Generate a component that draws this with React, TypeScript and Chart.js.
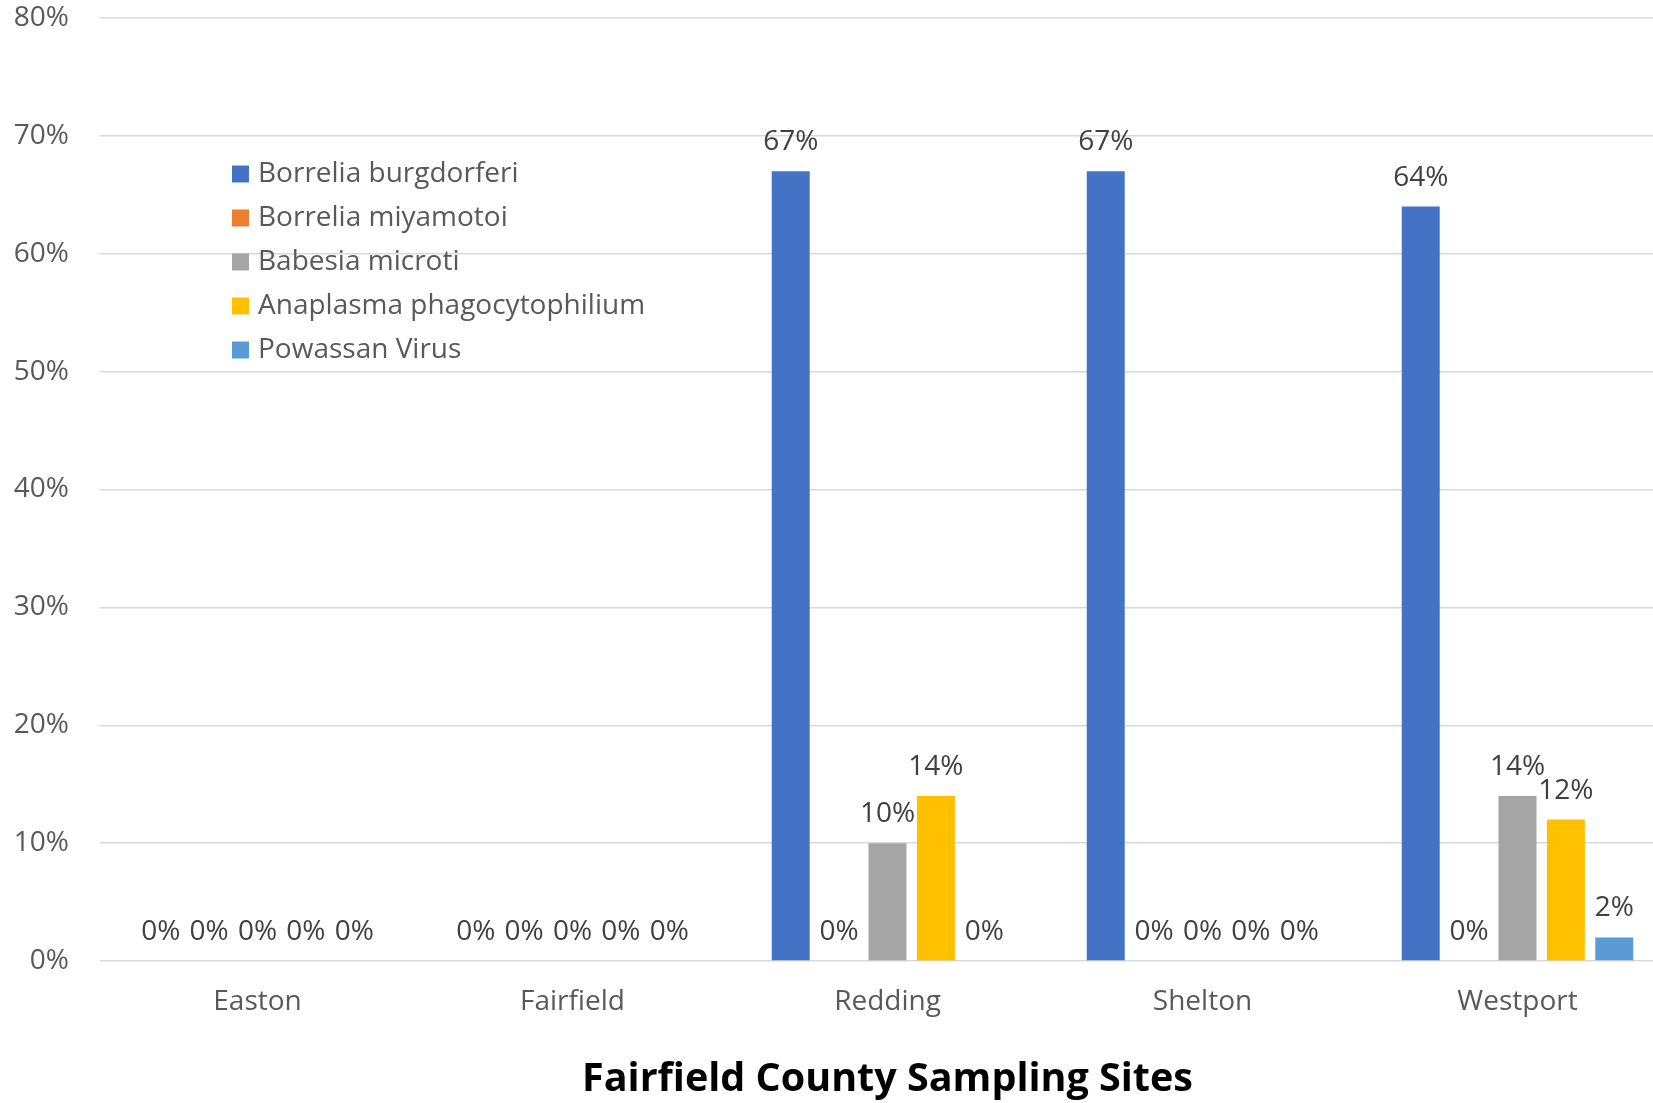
import React, { useEffect, useRef } from "react";
import { Chart, registerables } from "chart.js";

Chart.register(...registerables);

const categories = ["Easton", "Fairfield", "Redding", "Shelton", "Westport"];
const seriesNames = [
  "Borrelia burgdorferi",
  "Borrelia miyamotoi",
  "Babesia microti",
  "Anaplasma phagocytophilium",
  "Powassan Virus",
];
const borreliaBurgdorferi = [0, 0, 67, 67, 64];
const borreliaMiyamotoi = [0, 0, 0, 0, 0];
const babesiaMicroti = [0, 0, 10, 0, 14];
const anaplasma = [0, 0, 14, 0, 12];
const powassan = [0, 0, 0, 0, 2];
const seriesColors = ["#4472C4", "#ED7D31", "#A5A5A5", "#FFC000", "#5B9BD5"];
const yTicks = [0, 10, 20, 30, 40, 50, 60, 70, 80];
const xTitle = "Fairfield County Sampling Sites";

const FONT = "'Open Sans', 'Noto Sans', sans-serif";

const dataLabelPlugin = {
  id: "dataLabels",
  afterDatasetsDraw(chart: any) {
    const ctx = chart.ctx;
    ctx.save();
    ctx.font = `28px ${FONT}`;
    ctx.fillStyle = "#404040";
    ctx.textAlign = "center";
    ctx.textBaseline = "middle";
    chart.data.datasets.forEach((ds: any, i: number) => {
      const meta = chart.getDatasetMeta(i);
      meta.data.forEach((el: any, j: number) => {
        const v = ds.data[j];
        ctx.fillText(`${v}%`, el.x, el.y - 29);
      });
    });
    ctx.restore();
  },
};

const legendPlugin = {
  id: "insideLegend",
  afterDraw(chart: any) {
    const ctx = chart.ctx;
    const area = chart.chartArea;
    const x0 = area.left + 132;
    const y0 = area.top + 156;
    const step = 44;
    const box = 17;
    ctx.save();
    ctx.font = `28px ${FONT}`;
    ctx.textAlign = "left";
    ctx.textBaseline = "middle";
    chart.data.datasets.forEach((ds: any, i: number) => {
      const cy = y0 + i * step;
      ctx.fillStyle = ds.backgroundColor;
      ctx.fillRect(x0, cy - box / 2, box, box);
      ctx.fillStyle = "#595959";
      ctx.fillText(ds.label, x0 + 26, cy);
    });
    ctx.restore();
  },
};

export default function App() {
  const ref = useRef<HTMLCanvasElement | null>(null);
  useEffect(() => {
    document.body.style.margin = "0";
    const values = [borreliaBurgdorferi, borreliaMiyamotoi, babesiaMicroti, anaplasma, powassan];
    const chart = new Chart(ref.current as HTMLCanvasElement, {
      type: "bar",
      data: {
        labels: categories,
        datasets: seriesNames.map((name, i) => ({
          label: name,
          data: values[i],
          backgroundColor: seriesColors[i],
          borderWidth: 0,
          categoryPercentage: 0.768,
          barPercentage: 0.785,
        })),
      },
      options: {
        animation: false,
        responsive: false,
        devicePixelRatio: 1,
        layout: { padding: { top: 18, right: 25, left: 0, bottom: 0 } },
        plugins: { legend: { display: false }, tooltip: { enabled: false } },
        scales: {
          x: {
            grid: { display: false, drawTicks: false },
            border: { display: false },
            ticks: { color: "#595959", font: { family: FONT, size: 28 }, padding: 24 },
            title: {
              display: true,
              text: xTitle,
              color: "#000000",
              font: { family: FONT, size: 39.5, weight: "bold" },
              padding: { top: 0, bottom: 0 },
            },
            afterFit(scale: any) {
              scale.height = 142;
            },
          },
          y: {
            min: 0,
            max: 80,
            afterBuildTicks(scale: any) {
              scale.ticks = yTicks.map((v) => ({ value: v }));
            },
            grid: { color: "#D9D9D9", lineWidth: 1.5, drawTicks: false },
            border: { display: false },
            ticks: {
              color: "#595959",
              font: { family: FONT, size: 28 },
              padding: 31,
              callback: (v: any) => `${v}%`,
            },
            afterFit(scale: any) {
              scale.width = 100;
              scale.paddingTop = 0;
              scale.paddingBottom = 0;
            },
          },
        },
      },
      plugins: [dataLabelPlugin, legendPlugin],
    });
    return () => chart.destroy();
  }, []);
  return (
    <div
      style={{
        position: "fixed",
        left: 0,
        top: 0,
        width: 1653,
        height: 1103,
        overflow: "hidden",
        background: "#ffffff",
      }}
    >
      <canvas ref={ref} width={1700} height={1103} style={{ width: 1700, height: 1103, display: "block" }} />
    </div>
  );
}
